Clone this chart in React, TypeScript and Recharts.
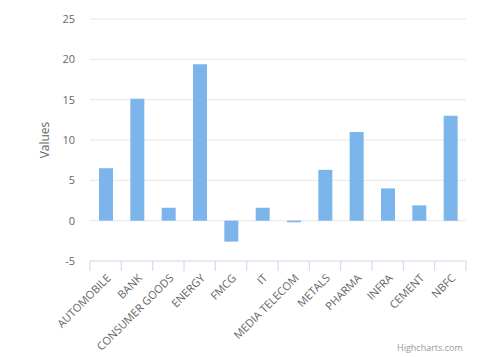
import { BarChart, Bar, XAxis, YAxis, CartesianGrid } from 'recharts';

const sectors = ['AUTOMOBILE', 'BANK', 'CONSUMER GOODS', 'ENERGY', 'FMCG', 'IT', 'MEDIA TELECOM', 'METALS', 'PHARMA', 'INFRA', 'CEMENT', 'NBFC'];
const values = [6.5, 15.1, 1.6, 19.4, -2.6, 1.6, -0.2, 6.3, 11.0, 4.0, 1.9, 13.0];
const yTicks = [-5, 0, 5, 10, 15, 20, 25];
const gridValues = [0, 5, 10, 15, 20, 25];

const chartData = sectors.map((name, i) => ({ name, value: values[i] }));

const font = '"Open Sans", "DejaVu Sans", sans-serif';
const W = 501;
const H = 357;
const LEFT = 90;
const RIGHT = 35;
const half = (W - LEFT - RIGHT) / sectors.length / 2;

const SectorTick = (props: any) => {
  const { x, y, payload, index } = props;
  return (
    <g>
      <line x1={x - half} y1={y} x2={x - half} y2={y + 10} stroke="#ccd6eb" />
      {index === sectors.length - 1 && <line x1={x + half} y1={y} x2={x + half} y2={y + 10} stroke="#ccd6eb" />}
      <g transform={`translate(${x + 3},${y + 15})`}>
        <text x={0} y={0} dy={4} textAnchor="end" transform="rotate(-45)" fontSize={11} fill="#666666" fontFamily={font}>
          {payload.value}
        </text>
      </g>
    </g>
  );
};

const App = () => {
  return (
    <div style={{ position: 'absolute', left: 0, top: 0, width: W, height: H, background: '#fff', overflow: 'hidden' }}>
      <BarChart width={W} height={H} data={chartData} margin={{ top: 19, right: RIGHT, bottom: 0, left: 0 }}>
        <CartesianGrid vertical={false} stroke="#e6e6e6" horizontalValues={gridValues} />
        <XAxis
          dataKey="name"
          interval={0}
          height={96}
          axisLine={{ stroke: '#ccd6eb' }}
          tickLine={false}
          tickSize={0}
          tickMargin={0}
          tick={<SectorTick />}
        />
        <YAxis
          domain={[-5, 25]}
          ticks={yTicks}
          width={LEFT}
          axisLine={false}
          tickLine={false}
          tickSize={0}
          tickMargin={15}
          tick={{ fontSize: 11, fill: '#666666', fontFamily: font }}
          label={{ value: 'Values', angle: -90, position: 'insideLeft', offset: 45, style: { fontSize: 12, fill: '#666666', fontFamily: font, textAnchor: 'middle' } }}
        />
        <Bar dataKey="value" fill="#7cb5ec" barSize={14} isAnimationActive={false} />
      </BarChart>
      <span style={{ position: 'absolute', left: 397, top: 342, fontSize: 9, lineHeight: '12px', color: '#999999', fontFamily: font }}>Highcharts.com</span>
    </div>
  );
};

export default App;
